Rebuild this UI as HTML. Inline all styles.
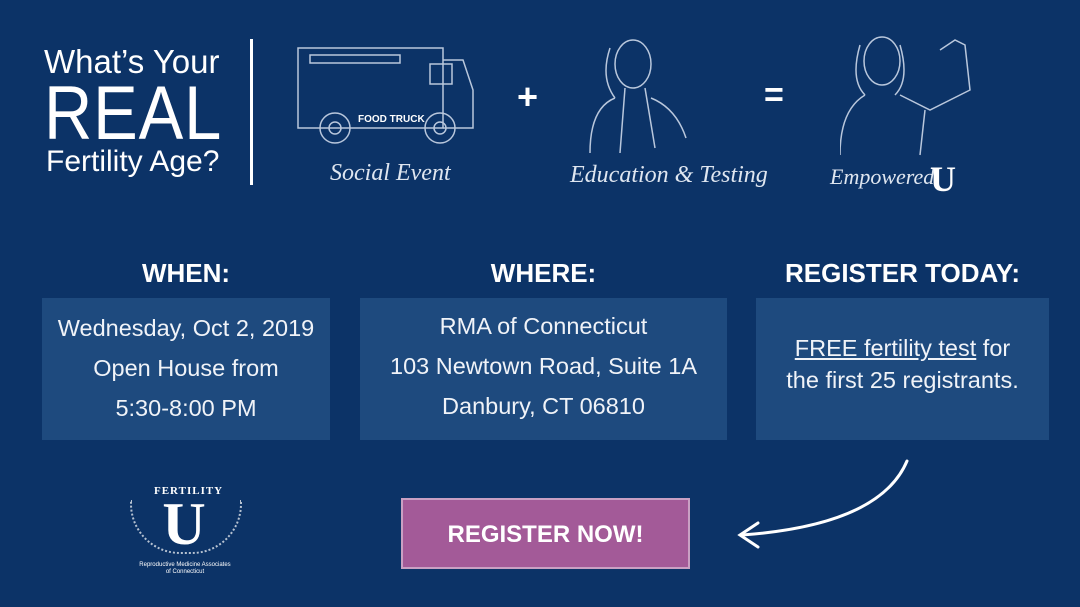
<!DOCTYPE html>
<html><head><style>
body{margin:0;width:1080px;height:607px;background:#0c3367;font-family:"Liberation Sans",sans-serif;color:#fff;position:relative;overflow:hidden}
.a{position:absolute}
.box{position:absolute;background:#1e4a7e;top:298px;height:142px;text-align:center;font-size:23.5px;line-height:40px;color:#f0f3f8}
.h{position:absolute;top:258px;font-weight:bold;font-size:26px;text-align:center}
.scr{position:absolute;font-family:"Liberation Serif",serif;font-style:italic;font-size:24px;color:#dfe6f0}
</style></head><body>
<div class="a" style="left:44px;top:44px;font-size:33px;line-height:36px">What’s Your</div>
<div class="a" style="left:44px;top:76px;font-size:76px;line-height:76px;transform:scaleX(0.88);transform-origin:0 0;letter-spacing:1px">REAL</div>
<div class="a" style="left:46px;top:145px;font-size:30px">Fertility Age?</div>
<div class="a" style="left:250px;top:39px;width:3px;height:146px;background:#fff"></div>
<svg class="a" style="left:290px;top:40px" width="190" height="110" fill="none" stroke="#b9c7dc" stroke-width="1.5">
<rect x="8" y="8" width="145" height="80"/><path d="M153 20 h20 l10 30 v38 h-30"/><rect x="140" y="24" width="22" height="20"/>
<path d="M20 15 h90 v8 h-90z"/><circle cx="45" cy="88" r="15"/><circle cx="45" cy="88" r="6"/><circle cx="150" cy="88" r="15"/><circle cx="150" cy="88" r="6"/>
<text x="68" y="82" fill="#fff" stroke="none" font-size="10" font-weight="bold" font-family="Liberation Sans">FOOD TRUCK</text></svg>
<div class="scr" style="left:330px;top:160px">Social Event</div>
<div class="a" style="left:517px;top:76px;font-size:36px;font-weight:bold">+</div>
<svg class="a" style="left:585px;top:28px" width="110" height="130" fill="none" stroke="#b9c7dc" stroke-width="1.5">
<ellipse cx="48" cy="36" rx="18" ry="24"/><path d="M25 20 q-10 30 5 50 M30 70 q-25 10 -25 55 M66 70 q25 10 35 40 M40 60 l-5 65 M60 60 l10 60"/></svg>
<div class="scr" style="left:570px;top:162px">Education &amp; Testing</div>
<div class="a" style="left:764px;top:76px;font-size:34px;font-weight:bold">=</div>
<svg class="a" style="left:840px;top:25px" width="145" height="135" fill="none" stroke="#b9c7dc" stroke-width="1.5">
<ellipse cx="42" cy="36" rx="18" ry="24"/><path d="M20 20 q-10 35 5 50 M60 20 q10 35 -5 50 M25 70 q-25 15 -25 60 M60 70 l30 15 l40 -20 l-5 -45 l-10 -5 l-15 10 M85 85 l-5 45"/></svg>
<div class="scr" style="left:830px;top:164px;font-size:22px">Empowered</div>
<div class="a" style="left:930px;top:158px;font-size:36px;font-weight:bold;font-family:'Liberation Serif',serif;color:#fff">U</div>
<div class="h" style="left:42px;width:288px">WHEN:</div>
<div class="h" style="left:360px;width:367px">WHERE:</div>
<div class="h" style="left:756px;width:293px">REGISTER TODAY:</div>
<div class="box" style="left:42px;width:288px;padding-top:10px;height:132px">Wednesday, Oct 2, 2019<br>Open House from<br>5:30-8:00 PM</div>
<div class="box" style="left:360px;width:367px;padding-top:8px;height:134px">RMA of Connecticut<br>103 Newtown Road, Suite 1A<br>Danbury, CT 06810</div>
<div class="box" style="left:756px;width:293px;padding-top:34px;height:108px;line-height:32px"><u>FREE fertility test</u> for<br>the first 25 registrants.</div>
<div class="a" style="left:401px;top:498px;width:289px;height:71px;background:#a35a98;border:2px solid #c9a0c3;box-sizing:border-box;text-align:center;line-height:70px;font-size:24px;font-weight:bold">REGISTER NOW!</div>
<svg class="a" style="left:730px;top:455px" width="190" height="100" fill="none" stroke="#fff" stroke-width="3" stroke-linecap="round">
<path d="M177 6 Q150 70 12 80"/><path d="M28 68 L10 80 L28 92"/></svg>
<div class="a" style="left:154px;top:485px;font-size:11px;font-weight:bold;font-family:'Liberation Serif',serif;letter-spacing:1px">FERTILITY</div>
<div class="a" style="left:160px;top:494px;width:48px;height:58px;text-align:center;font-size:60px;line-height:60px;font-weight:bold;font-family:'Liberation Serif',serif">U</div>
<div class="a" style="left:130px;top:500px;width:108px;height:52px;border:2px dotted #fff;border-top:none;border-radius:0 0 50px 50px;opacity:.7"></div>
<div class="a" style="left:133px;top:562px;width:104px;text-align:center;font-size:6px;line-height:7px">Reproductive Medicine Associates<br>of Connecticut</div>
</body></html>
